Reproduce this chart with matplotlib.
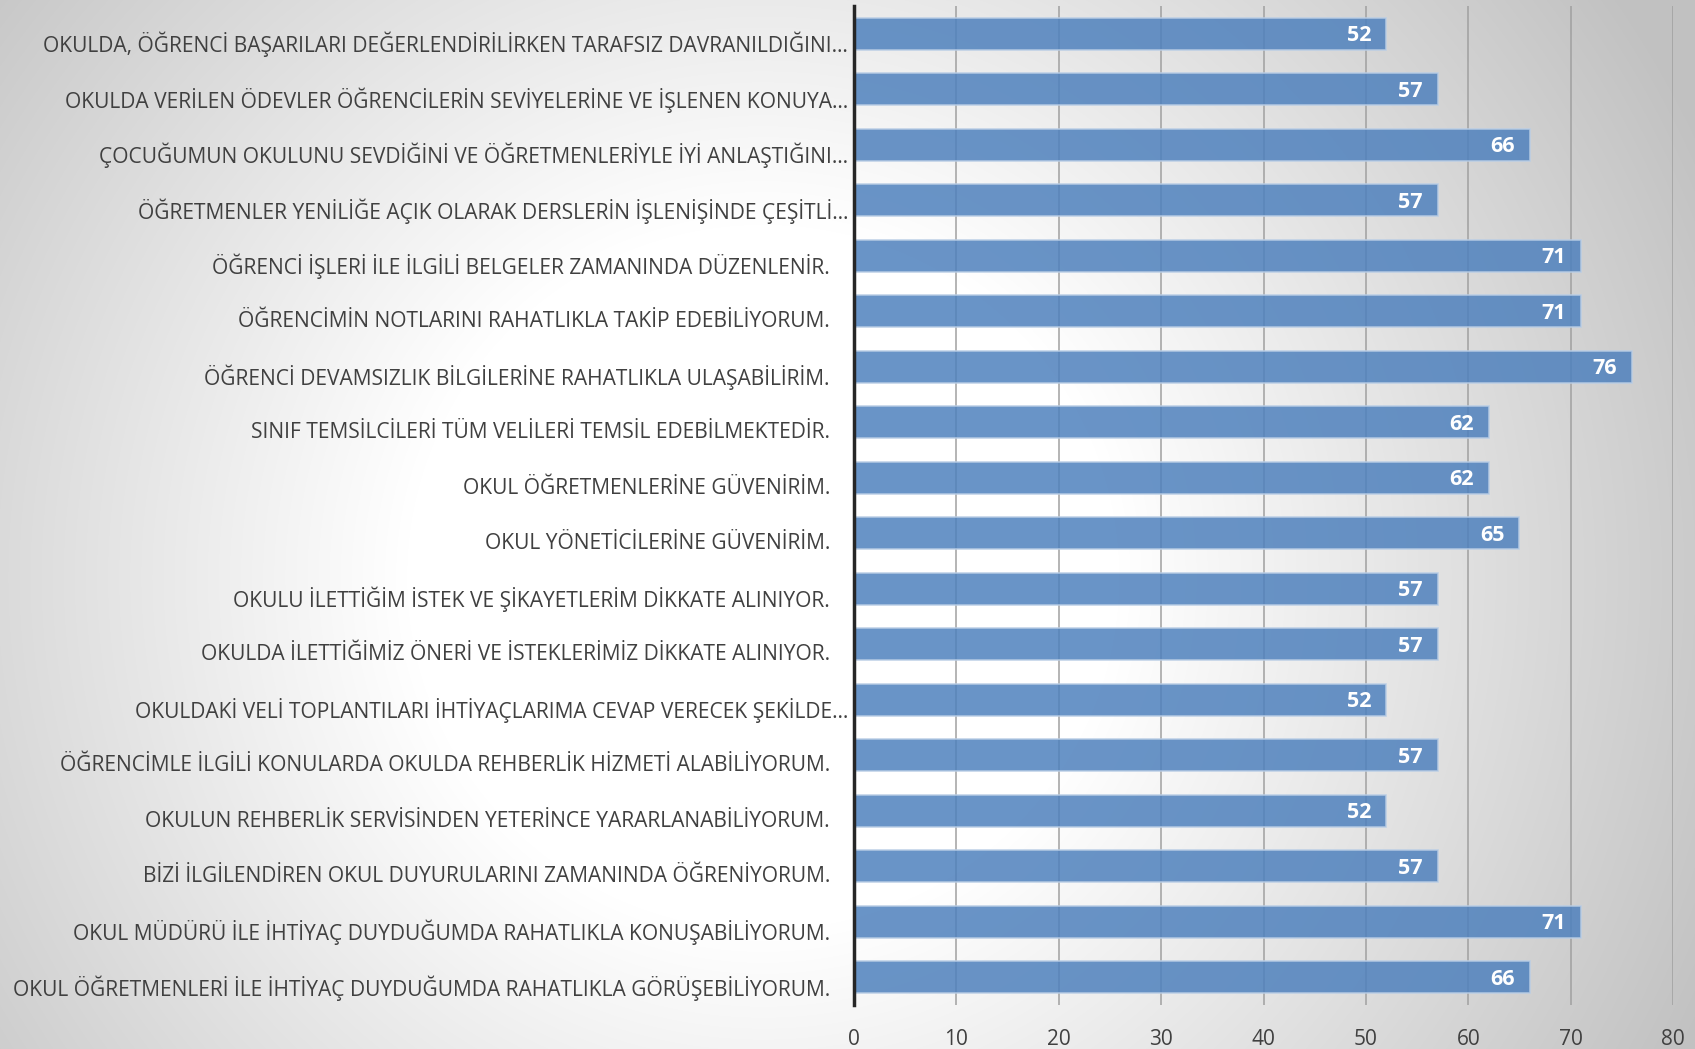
import matplotlib
matplotlib.use("Agg")
import matplotlib.pyplot as plt
import matplotlib.transforms as mtransforms
import numpy as np

categories = [
    "OKULDA, ÖĞRENCİ BAŞARILARI DEĞERLENDİRİLİRKEN TARAFSIZ DAVRANILDIĞINI…",
    "OKULDA VERİLEN ÖDEVLER ÖĞRENCİLERİN SEVİYELERİNE VE İŞLENEN KONUYA…",
    "ÇOCUĞUMUN OKULUNU SEVDİĞİNİ VE ÖĞRETMENLERİYLE İYİ ANLAŞTIĞINI…",
    "ÖĞRETMENLER YENİLİĞE AÇIK OLARAK DERSLERİN İŞLENİŞİNDE ÇEŞİTLİ…",
    "ÖĞRENCİ İŞLERİ İLE İLGİLİ BELGELER ZAMANINDA DÜZENLENİR.",
    "ÖĞRENCİMİN NOTLARINI RAHATLIKLA TAKİP EDEBİLİYORUM.",
    "ÖĞRENCİ DEVAMSIZLIK BİLGİLERİNE RAHATLIKLA ULAŞABİLİRİM.",
    "SINIF TEMSİLCİLERİ TÜM VELİLERİ TEMSİL EDEBİLMEKTEDİR.",
    "OKUL ÖĞRETMENLERİNE GÜVENİRİM.",
    "OKUL YÖNETİCİLERİNE GÜVENİRİM.",
    "OKULU İLETTİĞİM İSTEK VE ŞİKAYETLERİM DİKKATE ALINIYOR.",
    "OKULDA İLETTİĞİMİZ ÖNERİ VE İSTEKLERİMİZ DİKKATE ALINIYOR.",
    "OKULDAKİ VELİ TOPLANTILARI İHTİYAÇLARIMA CEVAP VERECEK ŞEKİLDE…",
    "ÖĞRENCİMLE İLGİLİ KONULARDA OKULDA REHBERLİK HİZMETİ ALABİLİYORUM.",
    "OKULUN REHBERLİK SERVİSİNDEN YETERİNCE YARARLANABİLİYORUM.",
    "BİZİ İLGİLENDİREN OKUL DUYURULARINI ZAMANINDA ÖĞRENİYORUM.",
    "OKUL MÜDÜRÜ İLE İHTİYAÇ DUYDUĞUMDA RAHATLIKLA KONUŞABİLİYORUM.",
    "OKUL ÖĞRETMENLERİ İLE İHTİYAÇ DUYDUĞUMDA RAHATLIKLA GÖRÜŞEBİLİYORUM.",
]
values = [52, 57, 66, 57, 71, 71, 76, 62, 62, 65, 57, 57, 52, 57, 52, 57, 71, 66]
xticks = [0, 10, 20, 30, 40, 50, 60, 70, 80]

plt.rcParams['font.family'] = ['Open Sans', 'DejaVu Sans']

W, H = 1695, 1049
fig = plt.figure(figsize=(W / 100, H / 100), dpi=100)

# radial gradient background
bg = fig.add_axes([0, 0, 1, 1], zorder=-10)
yy, xx = np.mgrid[0:H, 0:W]
cx, cy = 0.45, 0.55
r = np.sqrt(((xx / W - cx) / 0.5) ** 2 + ((yy / H - cy) / 0.8) ** 2)
shade = 1.0 - 0.30 * np.clip(r - 0.42, 0, None)
shade = np.clip(shade, 0.76, 1.0)
img = np.dstack([shade, shade, shade])
bg.imshow(img, aspect='auto', extent=[0, 1, 0, 1], origin='upper')
bg.axis('off')

left, right = 854 / W, 1673 / W
top, bottom = 1 - 6 / H, 1 - 1005 / H
ax = fig.add_axes([left, bottom, right - left, top - bottom])
ax.patch.set_alpha(0)

n = len(categories)
y = np.arange(n)
ax.barh(y, values, height=0.58, color='#4F81BD', alpha=0.85,
        edgecolor='#B9CDE5', linewidth=1.2, zorder=3)
ax.set_ylim(n - 0.5, -0.5)
ax.set_xlim(0, 80)
ax.set_xticks(xticks)
ax.set_xticklabels([str(t) for t in xticks], fontsize=15, color='#404040')
ax.tick_params(axis='x', length=0, pad=17)
ax.set_yticks([])
ax.grid(axis='x', color='#A0A0A0', linewidth=1.1, zorder=1)
ax.set_axisbelow(True)
for s in ['top', 'right', 'bottom']:
    ax.spines[s].set_visible(False)
ax.spines['left'].set_color('#262626')
ax.spines['left'].set_linewidth(2.5)
ax.spines['left'].set_zorder(5)

trans = mtransforms.blended_transform_factory(ax.transAxes, ax.transData)
for i, (lab, v) in enumerate(zip(categories, values)):
    off = -6 if lab.endswith('…') else -24
    t = mtransforms.offset_copy(trans, fig=fig, x=off, y=0, units='dots')
    ax.text(0, i + 0.19, lab, transform=t, ha='right', va='center',
            fontsize=15.1, color='#404040')
    ax.text(v, i + 0.04, f"{v}",
            transform=mtransforms.offset_copy(ax.transData, fig=fig, x=-15, y=0, units='dots'),
            ha='right', va='center', fontsize=15.5, color='white', fontweight='bold', zorder=6)

fig.savefig('out.png', dpi=100)
